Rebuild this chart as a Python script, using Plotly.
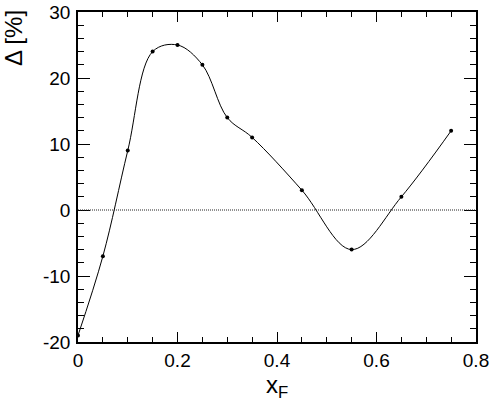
import plotly.graph_objects as go

# asimetria em função de x_F
x_f = [0.0, 0.05, 0.10, 0.15, 0.20, 0.25, 0.30, 0.35, 0.45, 0.55, 0.65, 0.75]
delta = [-19.0, -7.0, 9.0, 24.0, 25.0, 22.0, 14.0, 11.0, 3.0, -6.0, 2.0, 12.0]

x_ticks = [0, 0.2, 0.4, 0.6, 0.8]
x_labels = ["0", "0.2", "0.4", "0.6", "0.8"]
y_ticks = [-20, -10, 0, 10, 20, 30]
y_labels = ["-20", "-10", "0", "10", "20", "30"]

FONT = "Liberation Sans, Arial, Helvetica, sans-serif"

fig = go.Figure()

fig.add_trace(go.Scatter(
    x=x_f, y=delta,
    mode="lines+markers",
    line=dict(color="black", width=1, shape="spline", smoothing=1.0),
    marker=dict(color="black", size=4),
    showlegend=False,
))

# linha pontilhada no zero
fig.add_hline(y=0, line=dict(color="#222222", width=1, dash="1px,1px"))

axis_common = dict(
    showgrid=False, zeroline=False, automargin=False,
    showline=True, linecolor="black", linewidth=1.5,
    mirror="ticks", ticks="inside", tickcolor="black", tickwidth=1,
    tickfont=dict(family=FONT, size=19, color="black"),
)

fig.update_xaxes(
    range=[0, 0.8], tickvals=x_ticks, ticktext=x_labels, ticklen=10,
    minor=dict(dtick=0.05, ticks="inside", ticklen=5, tickcolor="black", tickwidth=1),
    **axis_common,
)
fig.update_yaxes(
    range=[-20, 30], tickvals=y_ticks, ticktext=y_labels, ticklen=12,
    minor=dict(dtick=2, ticks="inside", ticklen=6, tickcolor="black", tickwidth=1),
    ticklabelstandoff=2,
    **axis_common,
)

# títulos dos eixos
fig.add_annotation(
    text="Δ [%]", xref="paper", yref="paper", x=0, y=1,
    xanchor="center", yanchor="top", xshift=-65, yshift=4,
    textangle=-90, showarrow=False,
    font=dict(family=FONT, size=24, color="black"),
)
fig.add_annotation(
    text="x<sub>F</sub>", xref="paper", yref="paper", x=0.5, y=0,
    xanchor="center", yanchor="top", yshift=-27,
    showarrow=False,
    font=dict(family=FONT, size=24, color="black"),
)

fig.update_layout(
    template="none",
    width=491, height=403,
    margin=dict(l=78, r=15, t=12, b=61),
    paper_bgcolor="white", plot_bgcolor="white",
)

# tira a margem padrão de 8px do body da página
fig.write_html("out.html", config={"displayModeBar": False},
               post_script="document.body.style.margin='0';")
